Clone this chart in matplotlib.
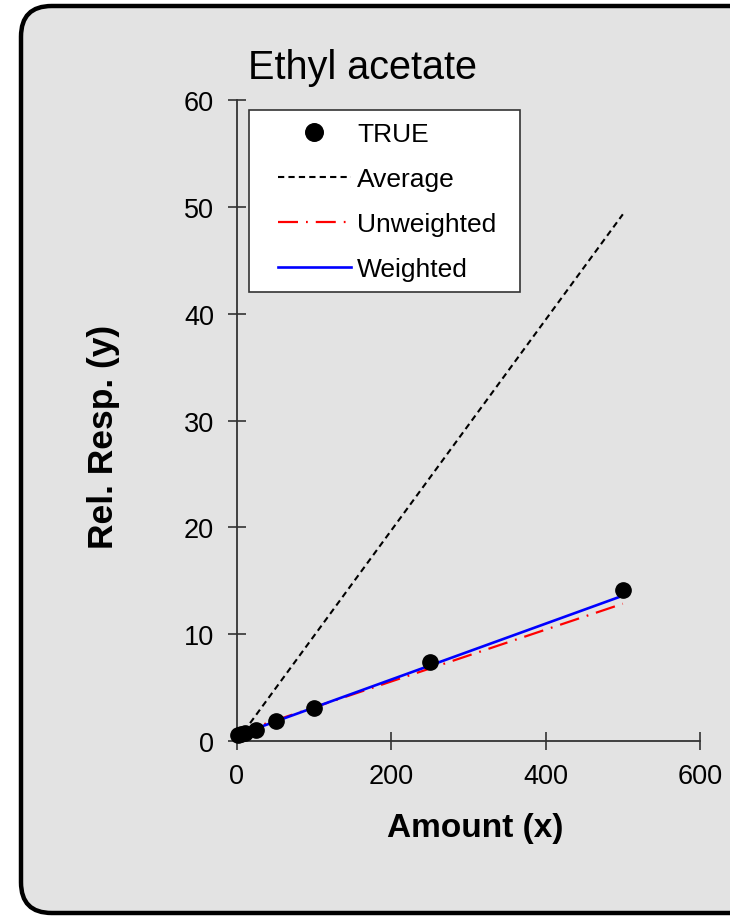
import matplotlib
matplotlib.use("Agg")
import matplotlib.pyplot as plt
from matplotlib.patches import FancyBboxPatch, Rectangle

# ---- data ----
x_true = [1, 5, 10, 25, 50, 100, 250, 500]
y_true = [0.55, 0.62, 0.75, 1.05, 1.9, 3.1, 7.4, 14.1]
x_fit = [1, 500]
y_average = [0.1, 49.3]
y_unweighted = [0.75, 12.85]
y_weighted = [0.55, 13.6]
x_ticks = [0, 200, 400, 600]
y_ticks = [0, 10, 20, 30, 40, 50, 60]
title = "Ethyl acetate"
xlabel = "Amount (x)"
ylabel = "Rel. Resp. (y)"

plt.rcParams['font.family'] = ['Liberation Sans', 'DejaVu Sans']

W, H = 730, 920
fig = plt.figure(figsize=(W / 100, H / 100), dpi=100)
fig.patch.set_facecolor('white')

panel = FancyBboxPatch((21 / W, 1 - 914 / H), (760 - 21) / W, (914 - 7) / H,
                       boxstyle="round,pad=0,rounding_size=0.042",
                       transform=fig.transFigure, facecolor='#e3e3e3',
                       edgecolor='black', linewidth=3.2, zorder=-5,
                       mutation_aspect=W / H)
fig.patches.append(panel)

ax = fig.add_axes([237 / W, 1 - 742 / H, (700 - 237) / W, (742 - 101) / H])
ax.set_zorder(2)
ax.set_facecolor('none')
ax.set_xlim(0, 600)
ax.set_ylim(0, 60)
for s in ['top', 'right']:
    ax.spines[s].set_visible(False)
for s in ['left', 'bottom']:
    ax.spines[s].set_color('#333333')
    ax.spines[s].set_linewidth(1.3)
ax.set_xticks(x_ticks)
ax.set_yticks(y_ticks)
ax.tick_params(direction='inout', length=13, width=1.2, color='#333333',
               labelsize=19.5, pad=9)
ax.tick_params(axis='y', pad=10)

ax.plot(x_fit, y_average, color='black', linestyle=(0, (3, 2)), linewidth=1.5,
        label='Average', zorder=2)
ax.plot(x_fit, y_unweighted, color='red', linestyle=(0, (9, 3.6, 0.8, 3.6)),
        linewidth=1.6, label='Unweighted', zorder=3)
ax.plot(x_fit, y_weighted, color='blue', linewidth=1.9, label='Weighted', zorder=4)
ax.plot(x_true, y_true, 'o', color='black', markersize=11, label='TRUE',
        zorder=5, clip_on=False)

handles, labels = ax.get_legend_handles_labels()
order = [3, 0, 1, 2]
pad_l, pad_r, pad_t, pad_b = 29, 24, 12, 11
leg = ax.legend([handles[i] for i in order], [labels[i] for i in order],
                loc='upper left',
                bbox_to_anchor=((249 + pad_l) / W, 1 - (111 + pad_t) / H),
                bbox_transform=fig.transFigure,
                borderaxespad=0, fontsize=19, frameon=False,
                handlelength=2.75, handletextpad=0.25, labelspacing=0.8,
                borderpad=0, markerscale=1.15)
leg.set_zorder(10)

fig.canvas.draw()
bb = leg.get_window_extent()
rect = Rectangle(((bb.x0 - pad_l) / W, (bb.y0 - pad_b) / H),
                 (bb.width + pad_l + pad_r) / W, (bb.height + pad_t + pad_b) / H,
                 transform=fig.transFigure, facecolor='white',
                 edgecolor='#333333', linewidth=1.2, zorder=1)
fig.patches.append(rect)

fig.text(362 / W, 1 - 68 / H, title, fontsize=28.5, ha='center', va='center')
fig.text(475 / W, 1 - 829 / H, xlabel, fontsize=24, fontweight='bold',
         ha='center', va='center')
fig.text(103 / W, 1 - 437 / H, ylabel, fontsize=25.5, fontweight='bold',
         ha='center', va='center', rotation=90)

fig.savefig('out.png', dpi=100, facecolor='white')
